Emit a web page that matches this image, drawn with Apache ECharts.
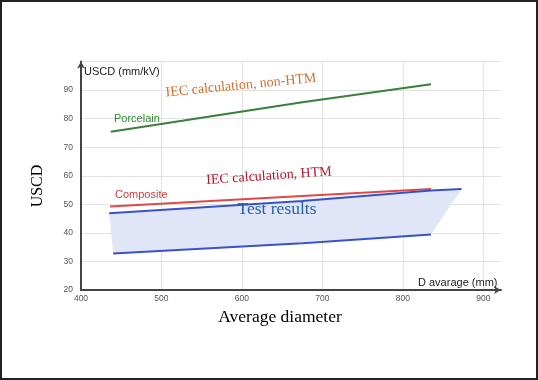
<!DOCTYPE html>
<html><head><meta charset="utf-8">
<script src="https://cdn.jsdelivr.net/npm/echarts@6/dist/echarts.min.js"></script>
<style>html,body{margin:0;padding:0;background:#fff}#c{width:538px;height:380px}</style>
</head><body><div id="c"></div>
<script>
// Data (x = average diameter mm, y = USCD mm/kV)
const porcelain = [[437, 75.4], [675, 85.7], [675, 86.2], [835, 92.0]];
const composite = [[436, 49.2], [675, 52.9], [675, 53.4], [835, 55.4]];
const testUpper = [[435, 46.9], [675, 51.2], [675, 51.7], [835, 54.8], [873, 55.4]];
const testLower = [[440, 32.8], [675, 36.4], [675, 36.9], [835, 39.4]];
const testBand = [[435, 46.9], [675, 51.2], [675, 51.7], [835, 54.8], [873, 55.4],
                  [835, 39.4], [675, 36.9], [675, 36.4], [440, 32.8]];
const xTicks = [400, 500, 600, 700, 800, 900];
const yTicks = [20, 30, 40, 50, 60, 70, 80, 90];
const yGrid = [20, 30, 40, 50, 60, 70, 80, 90, 100];

const chart = echarts.init(document.getElementById('c'));
const sans = 'Liberation Sans';
chart.setOption({
  animation: false,
  backgroundColor: '#fff',
  grid: { left: 81, right: 37, top: 61.5, bottom: 90 },
  xAxis: {
    type: 'value', min: 400, max: 922, interval: 100,
    axisLine: { show: true, lineStyle: { color: '#444', width: 2 }, symbol: ['none', 'arrow'], symbolSize: [6, 7] },
    axisTick: { show: false, customValues: xTicks },
    axisLabel: { color: '#555', fontSize: 8.5, fontFamily: sans, margin: 4, customValues: xTicks },
    splitLine: { show: true, lineStyle: { color: '#e2e2e2', width: 1 } }
  },
  yAxis: {
    type: 'value', min: 20, max: 100, interval: 10,
    axisLine: { show: true, lineStyle: { color: '#444', width: 2 }, symbol: ['none', 'arrow'], symbolSize: [6, 7] },
    axisTick: { show: false, customValues: yGrid },
    axisLabel: { color: '#555', fontSize: 8.5, fontFamily: sans, margin: 8, customValues: yTicks },
    splitLine: { show: true, lineStyle: { color: '#e2e2e2', width: 1 } }
  },
  series: [
    { type: 'custom', z: 1, data: testBand, encode: { x: 0, y: 1 },
      renderItem: (params, api) => {
        if (params.dataIndex !== 0) return null;
        const pts = testBand.map(p => api.coord(p));
        return { type: 'polygon', shape: { points: pts }, style: { fill: '#e0e5f7' } };
      } },
    { type: 'line', data: porcelain, symbol: 'none', z: 3, lineStyle: { color: '#3a7f3a', width: 2 } },
    { type: 'line', data: composite, symbol: 'none', z: 3, lineStyle: { color: '#e04848', width: 2 } },
    { type: 'line', data: testUpper, symbol: 'none', z: 4, lineStyle: { color: '#3a52c8', width: 2 } },
    { type: 'line', data: testLower, symbol: 'none', z: 4, lineStyle: { color: '#3a52c8', width: 2 } }
  ],
  graphic: { elements: [
    { type: 'rect', z: 100, shape: { x: 1, y: 1, width: 536, height: 378 }, style: { fill: 'none', stroke: '#222', lineWidth: 2 } },
    { type: 'text', z: 50, left: 84, top: 66, style: { text: 'USCD (mm/kV)', font: '11px "Liberation Sans"', fill: '#222' } },
    { type: 'text', z: 50, left: 114, top: 113, style: { text: 'Porcelain', font: '11px "Liberation Sans"', fill: '#2f8a2f' } },
    { type: 'text', z: 50, left: 115, top: 189, style: { text: 'Composite', font: '11px "Liberation Sans"', fill: '#d23c3c' } },
    { type: 'text', z: 50, x: 241, y: 85.5, rotation: 0.097, style: { text: 'IEC calculation, non-HTM', font: '14px "Liberation Serif"', fill: '#d4702a', align: 'center', verticalAlign: 'middle' } },
    { type: 'text', z: 50, x: 269, y: 176, rotation: 0.07, style: { text: 'IEC calculation, HTM', font: '14px "Liberation Serif"', fill: '#b5152b', align: 'center', verticalAlign: 'middle' } },
    { type: 'text', z: 50, x: 277, y: 209, style: { text: 'Test results', font: '17.5px "Liberation Serif"', fill: '#2462ad', align: 'center', verticalAlign: 'middle' } },
    { type: 'text', z: 50, left: 418, top: 277, style: { text: 'D avarage (mm)', font: '11px "Liberation Sans"', fill: '#222' } },
    { type: 'text', z: 50, x: 38, y: 186, rotation: Math.PI / 2, style: { text: 'USCD', font: '16px "Liberation Serif"', fill: '#000', align: 'center', verticalAlign: 'middle' } },
    { type: 'text', z: 50, x: 280, y: 317, style: { text: 'Average diameter', font: '17.5px "Liberation Serif"', fill: '#000', align: 'center', verticalAlign: 'middle' } }
  ] }
});
</script></body></html>
